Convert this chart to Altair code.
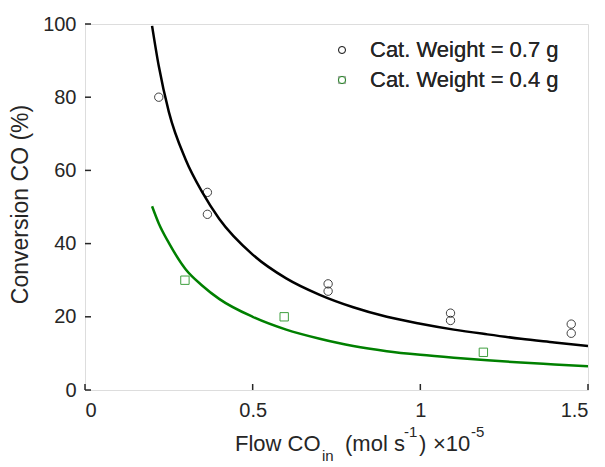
import altair as alt
import pandas as pd

# ---- data ----
series_names = ["Cat. Weight = 0.7 g", "Cat. Weight = 0.4 g"]

# model curves
black_x = [0.2, 0.22, 0.25, 0.3, 0.35, 0.4, 0.5, 0.6, 0.7, 0.8, 0.9, 1.0, 1.1, 1.2, 1.3, 1.4, 1.5]
black_y = [99.5, 88.5, 76.0, 63.0, 54.0, 46.8, 37.0, 30.5, 26.0, 22.6, 20.0, 18.1, 16.5, 15.2, 14.0, 13.0, 12.0]
green_x = [0.2, 0.22, 0.25, 0.3, 0.35, 0.4, 0.5, 0.6, 0.7, 0.8, 0.9, 1.0, 1.1, 1.2, 1.3, 1.4, 1.5]
green_y = [50.2, 45.5, 40.2, 33.0, 28.5, 24.9, 20.0, 16.5, 14.0, 12.0, 10.6, 9.6, 8.8, 8.1, 7.5, 7.0, 6.5]

# measured points
w07_x = [0.22, 0.365, 0.365, 0.725, 0.725, 1.09, 1.09, 1.45, 1.45]
w07_y = [80, 54, 48, 29, 27, 21, 19, 18, 15.5]
w04_x = [0.298, 0.594, 1.188]
w04_y = [30, 20, 10.3]

x_ticks = [0, 0.5, 1, 1.5]
y_ticks = [0, 20, 40, 60, 80, 100]

# ---- tables ----
curves = pd.concat([
    pd.DataFrame({"x": black_x, "y": black_y, "curve": series_names[0]}),
    pd.DataFrame({"x": green_x, "y": green_y, "curve": series_names[1]}),
])
points = pd.concat([
    pd.DataFrame({"x": w07_x, "y": w07_y, "series": series_names[0]}),
    pd.DataFrame({"x": w04_x, "y": w04_y, "series": series_names[1]}),
])

FONT = "Liberation Sans"
TXT = "#262626"
W, H = 503, 366

xscale = alt.Scale(domain=[0, 1.5], nice=False, zero=False)
yscale = alt.Scale(domain=[0, 100], nice=False)
line_scale = alt.Scale(domain=series_names, range=["#000000", "#008000"])
pt_scale = alt.Scale(domain=series_names, range=["#000000", "#008000"])
sscale = alt.Scale(domain=series_names, range=["circle", "square"])

xaxis = alt.Axis(values=x_ticks, labelExpr="datum.value + ''", domain=False, ticks=False,
                 grid=False, labelFontSize=20, labelColor=TXT, labelPadding=10, title=None,
                 labelFont=FONT)
yaxis = alt.Axis(values=y_ticks, domain=False, ticks=False, grid=False, labelFontSize=20,
                 labelColor=TXT, labelPadding=9, labelFont=FONT,
                 title="Conversion CO (%)", titleFontSize=23, titleFontWeight="normal",
                 titleColor=TXT, titleFont=FONT, titleX=-65, titleY=180, titleAngle=270,
                 titleAlign="center", titleBaseline="middle")

legend = alt.Legend(title=None, orient="none", legendX=246, legendY=15, labelFontSize=22,
                    labelFont=FONT, labelColor=TXT, labelLimit=0, symbolSize=50,
                    symbolStrokeWidth=1, labelOffset=17, rowPadding=8, padding=0,
                    symbolOpacity=0.8)

lines = alt.Chart(curves).mark_line(strokeWidth=2.5, interpolate="monotone", clip=True).encode(
    x=alt.X("x:Q", scale=xscale, axis=xaxis),
    y=alt.Y("y:Q", scale=yscale, axis=yaxis),
    stroke=alt.Stroke("curve:N", scale=line_scale, legend=None),
    detail="curve:N",
)

pts = alt.Chart(points).mark_point(filled=False, size=70, strokeWidth=1, opacity=0.75).encode(
    x=alt.X("x:Q", scale=xscale),
    y=alt.Y("y:Q", scale=yscale),
    color=alt.Color("series:N", scale=pt_scale, legend=legend),
    shape=alt.Shape("series:N", scale=sscale, legend=legend),
)

xt = alt.Chart(pd.DataFrame({"v": x_ticks})).mark_rule(color=TXT, strokeWidth=1.5).encode(
    x=alt.X("v:Q", scale=xscale), y=alt.value(H), y2=alt.value(H - 6))
yt = alt.Chart(pd.DataFrame({"v": y_ticks})).mark_rule(color=TXT, strokeWidth=1.5).encode(
    y=alt.Y("v:Q", scale=yscale), x=alt.value(0), x2=alt.value(6))


def label(text, x, y, size):
    return alt.Chart(pd.DataFrame({"t": [text]})).mark_text(
        align="left", baseline="alphabetic", font=FONT, fontSize=size, color=TXT
    ).encode(text="t:N", x=alt.value(x), y=alt.value(y))


x0, y0 = 85, 24
base_y = 451 - y0
title_parts = [
    label("Flow CO", 235 - x0, base_y, 22),
    label("in", 322 - x0, base_y + 10, 15),
    label("(mol s", 345 - x0, base_y, 22),
    label("-1", 404 - x0, base_y - 14, 15),
    label(")", 419 - x0, base_y, 22),
    label("\u00d710", 433 - x0, base_y, 22),
    label("-5", 471 - x0, base_y - 14, 15),
]

chart = alt.layer(lines, pts, xt, yt, *title_parts).resolve_scale(
    color="independent", stroke="independent"
).properties(
    width=W, height=H, autosize="none",
    padding={"left": x0, "top": y0, "right": 605 - x0 - W, "bottom": 467 - y0 - H},
).configure_view(stroke=TXT, strokeWidth=2).configure(font=FONT, background="white")

chart.save("out.html", embed_options={"renderer": "svg", "actions": False})
